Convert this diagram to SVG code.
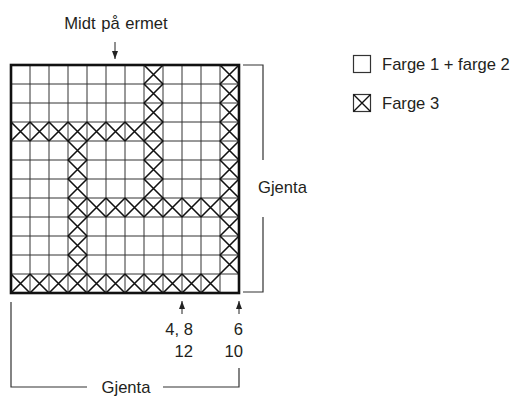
<svg xmlns="http://www.w3.org/2000/svg" xmlns:xlink="http://www.w3.org/1999/xlink" width="515" height="396" viewBox="0 0 515 396">
<style>
text{font-family:"Liberation Sans",Arial,sans-serif;font-size:16.6px;fill:#231f20}
.grid{stroke:#333;stroke-width:1;fill:none}
.x{stroke:#111;stroke-width:1.6;fill:none}
.border{stroke:#111;stroke-width:2.6;fill:none}
.conn{stroke:#333;stroke-width:1.2;fill:none}
.arr{stroke:#222;stroke-width:1;fill:none}
</style>
<defs>
<marker id="ah" viewBox="0 0 8 9" refX="8" refY="4.5" markerWidth="8" markerHeight="9" markerUnits="userSpaceOnUse" orient="auto">
<path d="M0 1.5L8 4.5L0 7.5Z" fill="#222"/>
</marker>
<path id="xm" d="M0 0L19 19M19 0L0 19"/>
</defs>
<g id="chart">
<path class="grid" d="M30 65V293M49 65V293M68 65V293M87 65V293M106 65V293M125 65V293M144 65V293M163 65V293M182 65V293M201 65V293M220 65V293M11 84H239M11 103H239M11 122H239M11 141H239M11 160H239M11 179H239M11 198H239M11 217H239M11 236H239M11 255H239M11 274H239"/>
<g class="x">
<use href="#xm" x="144" y="65"/><use href="#xm" x="220" y="65"/>
<use href="#xm" x="144" y="84"/><use href="#xm" x="220" y="84"/>
<use href="#xm" x="144" y="103"/><use href="#xm" x="220" y="103"/>
<use href="#xm" x="11" y="122"/><use href="#xm" x="30" y="122"/><use href="#xm" x="49" y="122"/><use href="#xm" x="68" y="122"/><use href="#xm" x="87" y="122"/><use href="#xm" x="106" y="122"/><use href="#xm" x="125" y="122"/><use href="#xm" x="144" y="122"/><use href="#xm" x="220" y="122"/>
<use href="#xm" x="68" y="141"/><use href="#xm" x="144" y="141"/><use href="#xm" x="220" y="141"/>
<use href="#xm" x="68" y="160"/><use href="#xm" x="144" y="160"/><use href="#xm" x="220" y="160"/>
<use href="#xm" x="68" y="179"/><use href="#xm" x="144" y="179"/><use href="#xm" x="220" y="179"/>
<use href="#xm" x="68" y="198"/><use href="#xm" x="87" y="198"/><use href="#xm" x="106" y="198"/><use href="#xm" x="125" y="198"/><use href="#xm" x="144" y="198"/><use href="#xm" x="163" y="198"/><use href="#xm" x="182" y="198"/><use href="#xm" x="201" y="198"/><use href="#xm" x="220" y="198"/>
<use href="#xm" x="68" y="217"/><use href="#xm" x="220" y="217"/>
<use href="#xm" x="68" y="236"/><use href="#xm" x="220" y="236"/>
<use href="#xm" x="68" y="255"/><use href="#xm" x="220" y="255"/>
<use href="#xm" x="11" y="274"/><use href="#xm" x="30" y="274"/><use href="#xm" x="49" y="274"/><use href="#xm" x="68" y="274"/><use href="#xm" x="87" y="274"/><use href="#xm" x="106" y="274"/><use href="#xm" x="125" y="274"/><use href="#xm" x="144" y="274"/><use href="#xm" x="163" y="274"/><use href="#xm" x="182" y="274"/><use href="#xm" x="201" y="274"/>
</g>
<rect class="border" x="11" y="65" width="228" height="228"/>
</g>
<g id="connectors">
<path class="arr" d="M115 42V59" marker-end="url(#ah)"/>
<path class="arr" d="M182 314V301" marker-end="url(#ah)"/>
<path class="arr" d="M239 314V301" marker-end="url(#ah)"/>
<path class="conn" d="M243 65H263V160M263 217V292H243"/>
<path class="conn" d="M11 302V387H87M163 387H239V368"/>
</g>
<g id="label-top"><text x="116" y="29" text-anchor="middle" word-spacing="1">Midt på ermet</text></g>
<g id="label-right"><text x="258" y="193">Gjenta</text></g>
<g id="label-bottom"><text x="126" y="393" text-anchor="middle">Gjenta</text></g>
<g id="label-48"><text x="193" y="335" text-anchor="end">4, 8</text><text x="193" y="357" text-anchor="end">12</text></g>
<g id="label-610"><text x="243" y="335" text-anchor="end">6</text><text x="243" y="357" text-anchor="end">10</text></g>
<g id="legend1"><rect x="353.5" y="55.5" width="17" height="17" fill="#fff" stroke="#333" stroke-width="1.2"/><text x="382" y="70">Farge 1 + farge 2</text></g>
<g id="legend2"><rect x="353.5" y="94.5" width="17" height="17" fill="#fff" stroke="#333" stroke-width="1.2"/><path d="M353.5 94.5L370.5 111.5M370.5 94.5L353.5 111.5" stroke="#111" stroke-width="1.4"/><text x="382" y="109">Farge 3</text></g>
</svg>
